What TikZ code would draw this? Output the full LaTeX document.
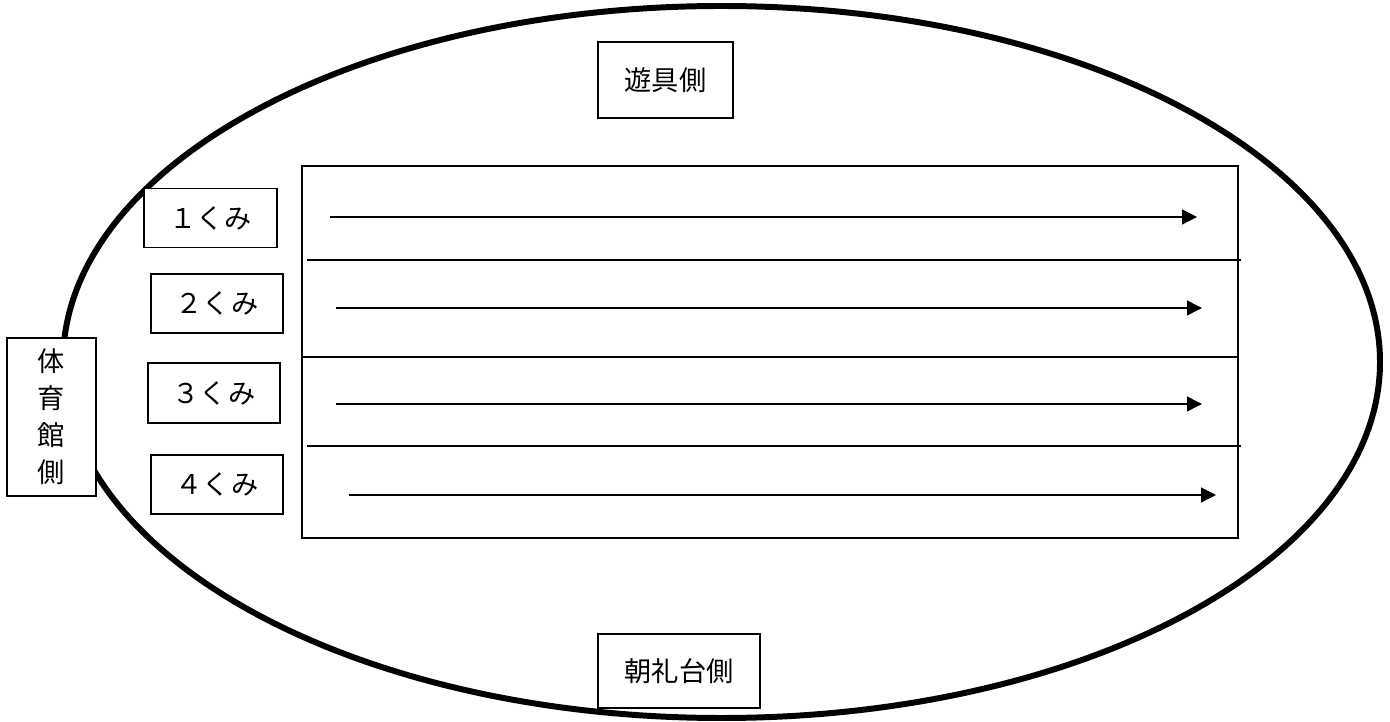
\documentclass[tikz,border=0pt]{standalone}
\usepackage{fontspec}
\setmainfont{Noto Sans CJK JP}
\usetikzlibrary{arrows.meta}
\tikzset{
  lbl/.style={draw, fill=white, line width=0.8pt, inner sep=0pt, font=\fontsize{15.5}{21}\selectfont},
  lane/.style={line width=0.8pt},
  run/.style={line width=0.8pt, -{Triangle[length=0.3cm,width=0.3cm]}}
}
\begin{document}
\begin{tikzpicture}[x=0.02cm, y=-0.02cm]
\useasboundingbox (0,0) rectangle (1390,722);
\draw[line width=3.4pt] (721.5,362) ellipse [x radius=658.5, y radius=356];
\node[lbl, minimum width=2.7cm, minimum height=1.52cm] (yugu) at (665.5,80) {遊具側};
\node[lbl, minimum width=3.24cm, minimum height=1.48cm] (chorei) at (679,671) {朝礼台側};
\node[lbl, minimum width=1.78cm, minimum height=3.16cm, align=center] (taiiku) at (51.5,417) {体\\育\\館\\側};
\draw[lane] (302,166) rectangle (1238,538);
\draw[lane] (307,260) -- (1241,260);
\draw[lane] (303,357) -- (1238,357);
\draw[lane] (307,446) -- (1241,446);
\node[lbl, minimum width=2.66cm, minimum height=1.18cm] (k1) at (210.5,218) {１くみ};
\node[lbl, minimum width=2.64cm, minimum height=1.18cm] (k2) at (217,303.5) {２くみ};
\node[lbl, minimum width=2.64cm, minimum height=1.2cm] (k3) at (214,393) {３くみ};
\node[lbl, minimum width=2.64cm, minimum height=1.18cm] (k4) at (217,484.5) {４くみ};
\foreach \i/\yy/\xa/\xb in {1/217/330/1197, 2/308/336/1202, 3/404/336/1202, 4/495/349/1216} {
  \coordinate (s\i) at (\xa,\yy);
  \coordinate (e\i) at (\xb,\yy);
  \draw[run] (s\i) -- (e\i);
}
\end{tikzpicture}
\end{document}
